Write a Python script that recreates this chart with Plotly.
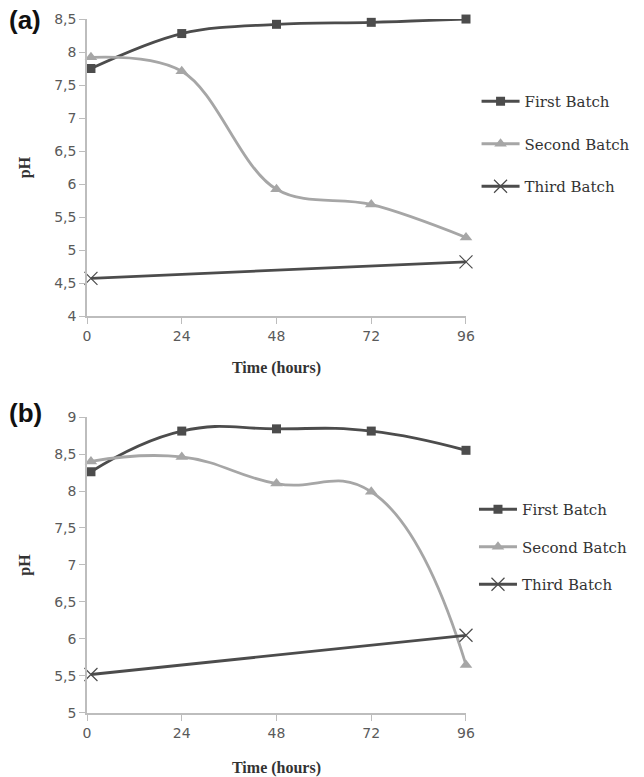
import plotly.graph_objects as go

# Sampling times (hours) and pH readings for the two experiments
time_a = [1, 24, 48, 72, 96]
first_a = [7.75, 8.28, 8.42, 8.45, 8.50]
second_a = [7.92, 7.71, 5.92, 5.69, 5.19]
third_time_a = [1, 96]
third_a = [4.57, 4.82]

time_b = [1, 24, 48, 72, 96]
first_b = [8.26, 8.81, 8.84, 8.81, 8.55]
second_b = [8.40, 8.46, 8.10, 7.99, 5.65]
third_time_b = [1, 96]
third_b = [5.52, 6.05]

x_ticks = [0, 24, 48, 72, 96]
y_ticks_a = [4, 4.5, 5, 5.5, 6, 6.5, 7, 7.5, 8, 8.5]
y_labels_a = ["4", "4,5", "5", "5,5", "6", "6,5", "7", "7,5", "8", "8,5"]
y_ticks_b = [5, 5.5, 6, 6.5, 7, 7.5, 8, 8.5, 9]
y_labels_b = ["5", "5,5", "6", "6,5", "7", "7,5", "8", "8,5", "9"]

DARK = "#4c4c4c"
LIGHT = "#a6a6a6"
AXIS = "#bdbdbd"

fig = go.Figure()


def add_panel(xa, ya, legend, t, first, second, t3, third, smooth):
    fig.add_trace(go.Scatter(
        x=t, y=first, name="First Batch", mode="lines+markers",
        line=dict(color=DARK, width=2.8, shape="spline", smoothing=smooth),
        marker=dict(symbol="square", size=9, color=DARK),
        xaxis=xa, yaxis=ya, legend=legend, legendgroup=legend + "1",
        cliponaxis=False))
    fig.add_trace(go.Scatter(
        x=t, y=second, name="Second Batch", mode="lines+markers",
        line=dict(color=LIGHT, width=2.8, shape="spline", smoothing=smooth),
        marker=dict(symbol="triangle-up", size=11, color=LIGHT),
        xaxis=xa, yaxis=ya, legend=legend, legendgroup=legend + "2",
        cliponaxis=False))
    fig.add_trace(go.Scatter(
        x=t3, y=third, name="Third Batch", mode="lines+markers",
        line=dict(color=DARK, width=2.8),
        marker=dict(symbol="x-thin-open", size=13,
                    line=dict(color="#a8a8a8", width=1.2)),
        xaxis=xa, yaxis=ya, legend=legend, legendgroup=legend + "3",
        cliponaxis=False))


add_panel("x", "y", "legend", time_a, first_a, second_a, third_time_a, third_a, 1.0)
add_panel("x2", "y2", "legend2", time_b, first_b, second_b, third_time_b, third_b, 1.3)

tick_font = dict(family="DejaVu Sans", size=14, color="#5a5a5a")
title_font = dict(family="Liberation Serif", size=16, color="#333333")

x_common = dict(range=[0, 96], tickvals=x_ticks, showgrid=False, zeroline=False,
                showline=True, linecolor=AXIS, linewidth=1.5, ticks="outside",
                tickcolor=AXIS, ticklen=6, tickfont=tick_font, automargin=False)
y_common = dict(showgrid=False, zeroline=False, showline=True, linecolor=AXIS,
                linewidth=1.5, ticks="outside", tickcolor=AXIS, ticklen=6,
                tickfont=tick_font, automargin=False)

legend_font = dict(family="DejaVu Serif", size=15, color="#333333")

fig.update_layout(
    width=644, height=777,
    margin=dict(l=0, r=0, t=0, b=0, autoexpand=False),
    paper_bgcolor="white", plot_bgcolor="white",
    showlegend=True,
    xaxis=dict(domain=[0.1351, 0.7236], anchor="y",
               title=dict(text="<b>Time (hours)</b>", font=title_font, standoff=19),
               **x_common),
    yaxis=dict(domain=[0.5933, 0.9755], anchor="x", range=[4, 8.5],
               tickvals=y_ticks_a, ticktext=y_labels_a,
               title=dict(text="<b>pH</b>", font=title_font, standoff=20),
               **y_common),
    xaxis2=dict(domain=[0.1351, 0.7236], anchor="y2",
                title=dict(text="<b>Time (hours)</b>", font=title_font, standoff=24),
                **x_common),
    yaxis2=dict(domain=[0.0824, 0.4633], anchor="x2", range=[5, 9],
                tickvals=y_ticks_b, ticktext=y_labels_b,
                title=dict(text="<b>pH</b>", font=title_font, standoff=20),
                **y_common),
    legend=dict(x=0.740, y=0.8906, xanchor="left", yanchor="top",
                font=legend_font, itemwidth=38,
                tracegroupgap=20, bgcolor="rgba(0,0,0,0)"),
    legend2=dict(x=0.736, y=0.3655, xanchor="left", yanchor="top",
                 font=legend_font, itemwidth=38,
                 tracegroupgap=15, bgcolor="rgba(0,0,0,0)"),
    annotations=[
        dict(text="<b>(a)</b>", x=0.011, y=1 - 20 / 777, xref="paper", yref="paper",
             xanchor="left", yanchor="middle", showarrow=False,
             font=dict(family="Liberation Sans", size=26, color="#111111")),
        dict(text="<b>(b)</b>", x=0.011, y=1 - 413 / 777, xref="paper", yref="paper",
             xanchor="left", yanchor="middle", showarrow=False,
             font=dict(family="Liberation Sans", size=26, color="#111111")),
    ],
)

fig.write_html("out.html")
